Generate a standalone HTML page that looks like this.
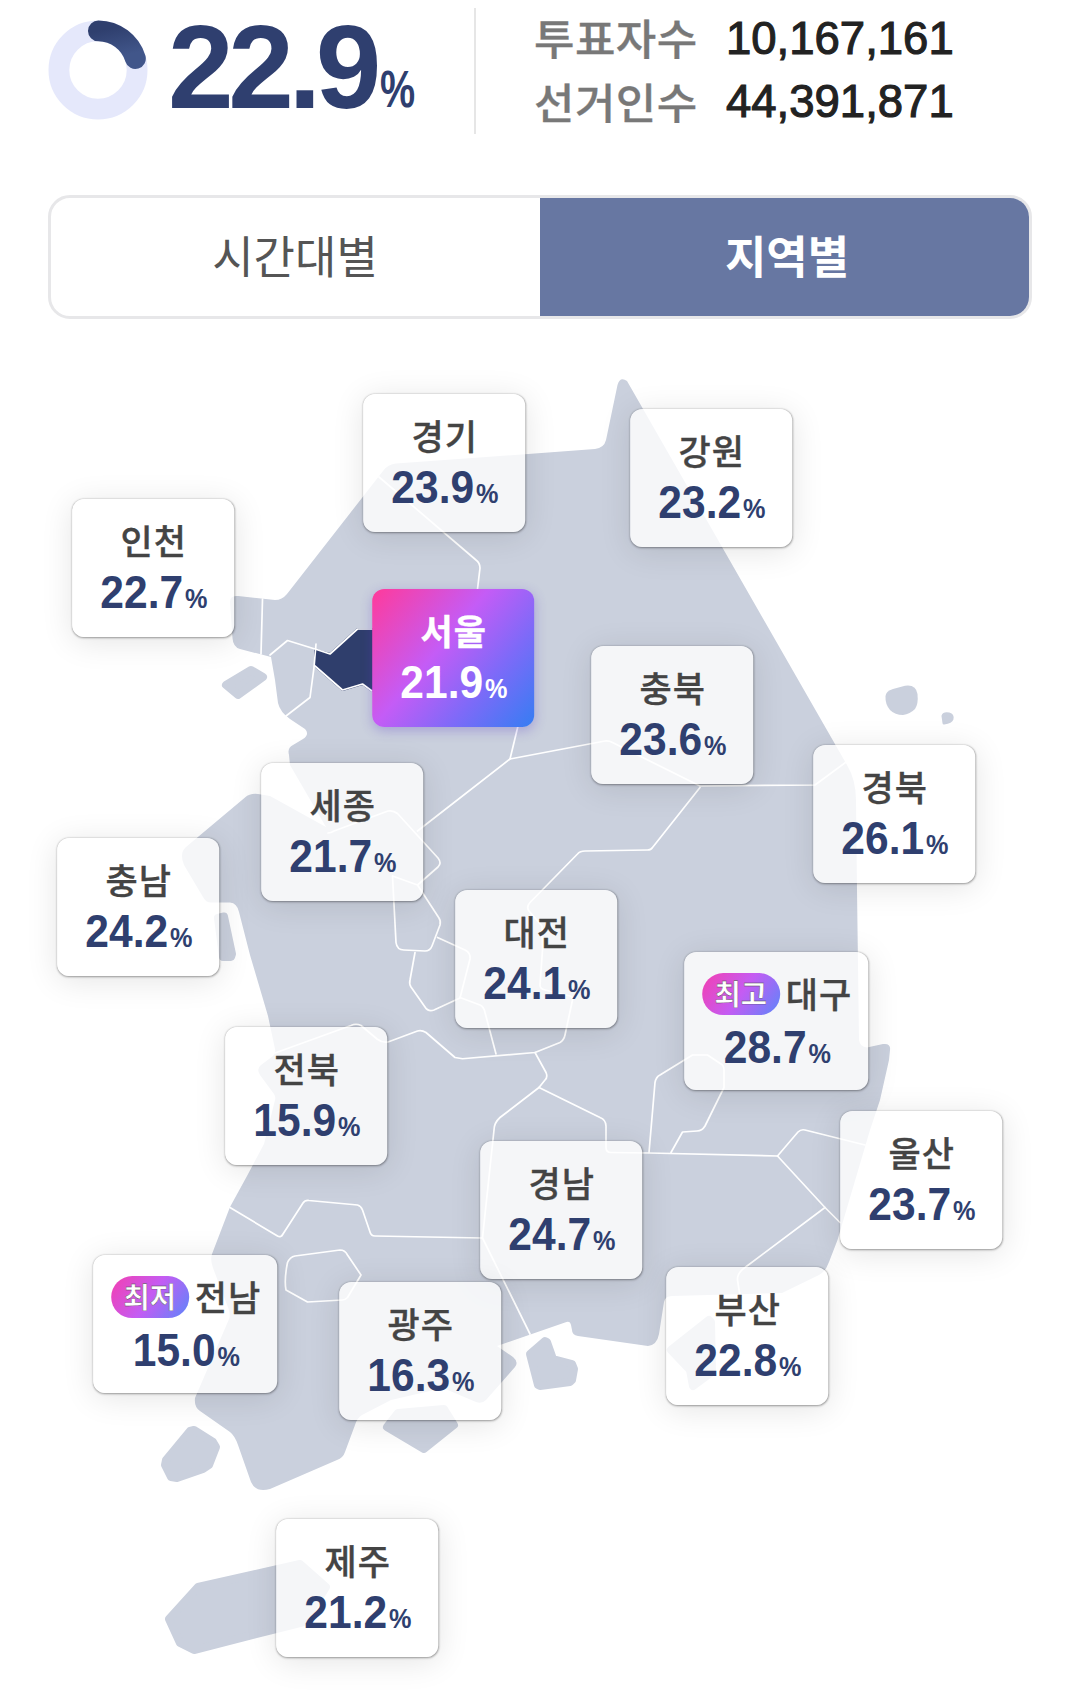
<!DOCTYPE html>
<html lang="ko">
<head>
<meta charset="utf-8">
<title>투표율</title>
<style>
*{box-sizing:border-box;margin:0;padding:0}
html,body{width:1080px;height:1693px;background:#fff;overflow:hidden}
body{position:relative;font-family:"Liberation Sans","Noto Sans CJK KR",sans-serif;color:#222}
.abs{position:absolute}
/* header */
#donut{left:47.5px;top:19.7px;width:100px;height:100px}
#big{left:168px;top:0px;font-size:118px;font-weight:700;color:#2f3f6f;line-height:134px;white-space:nowrap;letter-spacing:-5.4px}
#bigp{left:379.5px;top:59px;font-size:52px;font-weight:700;color:#2f3f6f;line-height:60px;transform:scaleX(.76);transform-origin:0 0}
#vline{left:474px;top:8px;width:2px;height:126px;background:#e6e6e6}
.hl{font-family:"Noto Sans CJK KR",sans-serif;font-size:44px;font-weight:500;color:#787878;line-height:56px;white-space:nowrap;letter-spacing:.4px;transform:scaleY(.955);transform-origin:0 50%;-webkit-text-stroke:.3px #787878}
.hv{font-size:45.5px;color:#222;line-height:56px;white-space:nowrap;font-weight:400;-webkit-text-stroke:1.1px #222}
/* tabs */
#tabs{left:48px;top:195px;width:984px;height:124px;border-radius:22px;border:3px solid #e7e7e9;background:#fff;overflow:hidden}
#tabs .on{position:absolute;left:489px;top:-3px;width:494px;height:124px;background:#6777a2}
.tab{font-family:"Noto Sans CJK KR",sans-serif;font-size:45px;line-height:60px;white-space:nowrap;text-align:center;width:300px}
/* map labels */
.lb{position:absolute;width:162px;height:138px;transform:translate(1.2px,1.1px);border-radius:12px;background:rgba(255,255,255,.8);box-shadow:0 0 2px rgba(0,0,0,.33),0 1px 3px rgba(0,0,0,.04),0 4px 32px rgba(0,0,0,.105);text-align:center}
.lb.w{width:183.5px}
.lb .n{position:absolute;left:0;right:0;top:19px;font-family:"Noto Sans CJK KR",sans-serif;font-size:35px;line-height:44px;color:#444;white-space:nowrap;font-weight:500;letter-spacing:1px;text-indent:1px;-webkit-text-stroke:.35px #444}
.lb .v{position:absolute;left:0;right:0;top:67.5px;font-size:45.5px;line-height:52px;font-weight:700;color:#2f3f6f;white-space:nowrap;transform:translateX(.7px) scaleX(.935)}
.lb.w .v{top:69.5px;transform:translateX(1.4px) scaleX(.935)}
.lb.w .n{padding-left:1px}
.lb .v i{font-style:normal;font-size:27px;margin-left:2px}
.lb.seoul{background:linear-gradient(130deg,#fc3c9f 2%,#c45cf6 42%,#7d6af8 70%,#3a7cf3 98%);border:none;box-shadow:0 3px 12px rgba(90,60,200,.3)}
.lb.seoul .n,.lb.seoul .v{color:#fff;-webkit-text-stroke-color:#fff}
.lb.seoul .n{font-weight:700}
.bd{display:inline-block;vertical-align:top;width:78px;height:42px;border-radius:21px;margin:2px 6px 0 0;text-indent:0;background:linear-gradient(125deg,#f43fb0 0%,#c45cf3 50%,#5c86fa 100%);color:#fff;font-weight:700;font-size:28.5px;line-height:40px;text-align:center;letter-spacing:0}
</style>
</head>
<body>
<!-- header -->
<svg id="donut" class="abs" viewBox="0 0 100 100">
  <defs><linearGradient id="dg" x1="0" y1="0" x2="0.3" y2="1"><stop offset="0" stop-color="#2f3f6e"/><stop offset="1" stop-color="#41568a"/></linearGradient></defs>
  <circle cx="50" cy="50" r="39.1" fill="none" stroke="#e5e8fb" stroke-width="20.8"/>
  <path d="M50.4 10.9 A39.1 39.1 0 0 1 87.4 38.6" fill="none" stroke="url(#dg)" stroke-width="20.8" stroke-linecap="round"/>
</svg>
<div id="big" class="abs">22.9</div>
<div id="bigp" class="abs">%</div>
<div id="vline" class="abs"></div>
<div class="abs hl" style="left:534px;top:9px">투표자수</div>
<div class="abs hv" style="left:726px;top:11px">10,167,161</div>
<div class="abs hl" style="left:534px;top:73px">선거인수</div>
<div class="abs hv" style="left:726px;top:74px">44,391,871</div>

<!-- tabs -->
<div id="tabs" class="abs"><div class="on"></div>
  <div class="abs tab" style="left:94px;top:27px;color:#555">시간대별</div>
  <div class="abs tab" style="left:586px;top:27px;color:#fff;font-weight:700">지역별</div>
</div>

<!-- map -->
<svg id="map" class="abs" style="left:0;top:0" width="1080" height="1693" viewBox="0 0 1080 1693">
<g id="land" fill="#cad0dd" stroke="none">
<path id="main" d="M396 463.5 L500 456 L595 449 Q604 448 606 440 L617.5 385 Q620 376 627 381 L847 765 Q856 780 856 800 L857 890 L859 1040 Q860 1047 867 1047.5 L883 1044 Q891 1043 890 1050 L889 1060 L880 1100 L870 1130 L837.5 1240 L829 1262 Q826 1271 819 1275 L782 1293 L672 1296 Q665 1296 664 1302 L659 1334 Q657 1345 648 1346 L578 1336 Q572 1335 572 1330 L571 1325 Q570 1320 565 1322.5 L497 1346 L513 1357 Q519 1362 515 1367 L486 1400 Q482 1404 476 1402 L443 1388 L391 1400 L362 1415 Q357 1418 355 1425 L345 1452 Q343 1458 337 1460 L270 1489 Q256 1493 251 1482 L238 1445 Q235 1436 230 1432 L200 1411 Q194 1407 195 1398 L229.5 1318 Q230 1314 229 1310 L213 1268 Q210 1260 212 1254 L230 1207 L247 1176 L264 1144 L275 1100 Q276 1097 274 1094 L260 1075 Q256 1069 261 1065 L273 1056 Q276 1053 275 1049 L268 1016 L250 955 L239 912 Q237 903 230 902.5 L212 902.5 Q206 903 203 897 L184 865 Q179 853 186 847 L245 797.5 Q250 793 258 794 L270 796 L326 827 L290 765 L289 755 Q287 748 293 745 L303 739 Q310 734 305 729 L290 719 Q280 712 278 703 L275 680 L271 657 L240 649 Q233 647 232.5 638 L230 602 Q230 595 238 596 L275 600 Q282 600 287 594 L383 471 Q388 464 396 463.5 Z"/>
</g>
<g id="isl" fill="#cad0dd" stroke="#cad0dd" stroke-width="8" stroke-linejoin="round">
<path d="M226 685 L251 670 L263 677 L238 695 Z"/>
<path d="M218 918 L224 916.5 L232 954 L231 957 L223 957 Z"/>
<path d="M194 1430 L213 1442 L216 1447 L209 1465 L203 1469 L177 1478 L171 1477 L165 1465 L166 1460 L190 1431 Z"/>
<path d="M387 1427 L398 1413 L444 1409 L454 1425 L424 1449 Z"/>
<path d="M530 1354 L545 1341 L547 1342 L553 1359 L572 1364 L574 1369 L572 1380 L570 1382 L540 1386 L538 1385 Z"/>
<path d="M671 1350 L709 1320 L711 1322 L712 1372 L693 1386 L690 1370 Z"/>
<path d="M169 1619 L198 1587 L300 1564 L326 1587 L304 1622 L194 1650 L180 1643 Z"/>
<path d="M885.5 696 Q886 691 893 689 L905 685.7 Q916 684 917.5 694 Q918.5 704 915 709 Q910 714 903 715 Q895 715 890 710 Q885 704 885.5 696 Z" stroke="none"/>
<path d="M943 716 Q944 713 949 714 Q953 715 952 719 Q951 722 944 723 Z" stroke-width="3"/>
</g>
<path id="seoul" d="M315 650 L330 654 L357.5 629 L380 629 L380 691 L372 691 L362.5 684 L342.5 690 L315 666 Z" fill="#2f3e6c" stroke="#2f3e6c" stroke-width="2" stroke-linejoin="round"/>
<g id="lines" fill="none" stroke="#fff" stroke-width="1.7" stroke-linejoin="round" stroke-linecap="round">
<path d="M262.5 599 L261 654"/>
<path d="M270 655 L287.5 640.5 L315 649 L330 654 L357.5 629 L372 629"/>
<path d="M316 644 L314 667.5 L310 697.5 L286 716"/>
<path d="M315 666 L342.5 690 L362.5 684 L372 691"/>
<path d="M379 477 L476 560 Q480 563 480 568 L477.5 589"/>
<path d="M518 726 L510 759 L605 741 Q609 740.5 612.5 742.5 L700 786 L815 785 L847.5 761"/>
<path d="M510 759 L417.5 831"/>
<path d="M328 833 Q331 833 334 831 L388 811 Q393 810 397.5 813.5 L438 858 Q442 863 438 867 L417.5 885 L392.5 876 L396 942.5 Q397 950 404 950 L425 951 Q430 951 432 946 L440 925 Q441 921 439 918 L417.5 885"/>
<path d="M437.5 937.5 L465 950 Q471 953 470 959 L460 998 L434 1010 Q428 1012 425 1007 L411 987 Q409 984 410 980 L415 952.5"/>
<path d="M460 997.5 L480 1005 Q484 1007 485 1012.5 L496 1054"/>
<path d="M275 1053 L351 1025.5 Q356 1023 361 1025.5 L377 1039 Q382 1043 388 1042 L417.5 1031 Q422 1030 426 1032.5 L455 1057.5 L462.5 1058.75 L535 1052.5 L560 1042.5 Q564 1040 565 1035 L572.5 1000 Q573 997 570 996 L545 990 Q540 989 540 985 L542.5 950 L542 926 L529 911 Q526 907 530 902.5 L577.5 854 Q580 851 585 851 L647.5 850 Q651 850 652.5 847.5 L700 787.5"/>
<path d="M535 1052.5 L546 1072.5 Q548 1077 545 1080 L539 1087.5 L500 1117.5 Q494 1123 494 1130 L482.5 1238 L530 1334"/>
<path d="M539 1087.5 L600 1117.5 Q606 1120 606 1126 L606 1147.5 Q606 1152.5 611 1152.5 L649 1153 L777.5 1156"/>
<path d="M649 1152.5 L655 1082.5 Q656 1077 660 1075 L692.5 1055 L707.5 1055 L722.5 1065 Q724 1067 724 1070 L724 1087.5 L705 1126 Q702 1131 697 1131 L682.5 1132 L671 1152.5"/>
<path d="M777.5 1156 L798 1132 Q801 1129 805 1130 L865 1145"/>
<path d="M777.5 1156 L825 1207.5 L840 1222.5"/>
<path d="M825 1207.5 L745 1267.5 Q737 1273 737.5 1280 L740 1296"/>
<path d="M230 1207.5 L277.5 1236 Q281 1238 283 1234 L303 1203 Q305 1200 309 1200.5 L357.5 1205 Q361 1206 362.5 1210 L370 1232 Q371 1236 375 1236 L482.5 1238"/>
<path d="M287.5 1262.5 Q290 1257 295 1256 L340 1250 Q345 1250 347.5 1255 L361 1275 L347.5 1297.5 Q345 1300 342.5 1300 L307.5 1302 L286 1290 Q284 1280 287.5 1262.5 Z"/>
</g>
</svg>

<div class="lb " style="left:362px;top:393px"><div class="n">경기</div><div class="v">23.9<i>%</i></div></div>
<div class="lb " style="left:629px;top:408px"><div class="n">강원</div><div class="v">23.2<i>%</i></div></div>
<div class="lb " style="left:71px;top:498px"><div class="n">인천</div><div class="v">22.7<i>%</i></div></div>
<div class="lb seoul" style="left:371px;top:588px"><div class="n">서울</div><div class="v">21.9<i>%</i></div></div>
<div class="lb " style="left:590px;top:645px"><div class="n">충북</div><div class="v">23.6<i>%</i></div></div>
<div class="lb " style="left:812px;top:744px"><div class="n">경북</div><div class="v">26.1<i>%</i></div></div>
<div class="lb " style="left:260px;top:762px"><div class="n">세종</div><div class="v">21.7<i>%</i></div></div>
<div class="lb " style="left:56px;top:837px"><div class="n">충남</div><div class="v">24.2<i>%</i></div></div>
<div class="lb " style="left:454px;top:889px"><div class="n">대전</div><div class="v">24.1<i>%</i></div></div>
<div class="lb w" style="left:683px;top:951px"><div class="n"><span class="bd">최고</span>대구</div><div class="v">28.7<i>%</i></div></div>
<div class="lb " style="left:224px;top:1026px"><div class="n">전북</div><div class="v">15.9<i>%</i></div></div>
<div class="lb " style="left:839px;top:1110px"><div class="n">울산</div><div class="v">23.7<i>%</i></div></div>
<div class="lb " style="left:479px;top:1140px"><div class="n">경남</div><div class="v">24.7<i>%</i></div></div>
<div class="lb w" style="left:92px;top:1254px"><div class="n"><span class="bd">최저</span>전남</div><div class="v">15.0<i>%</i></div></div>
<div class="lb " style="left:338px;top:1281px"><div class="n">광주</div><div class="v">16.3<i>%</i></div></div>
<div class="lb " style="left:665px;top:1266px"><div class="n">부산</div><div class="v">22.8<i>%</i></div></div>
<div class="lb " style="left:275px;top:1518px"><div class="n">제주</div><div class="v">21.2<i>%</i></div></div>
</body>
</html>
